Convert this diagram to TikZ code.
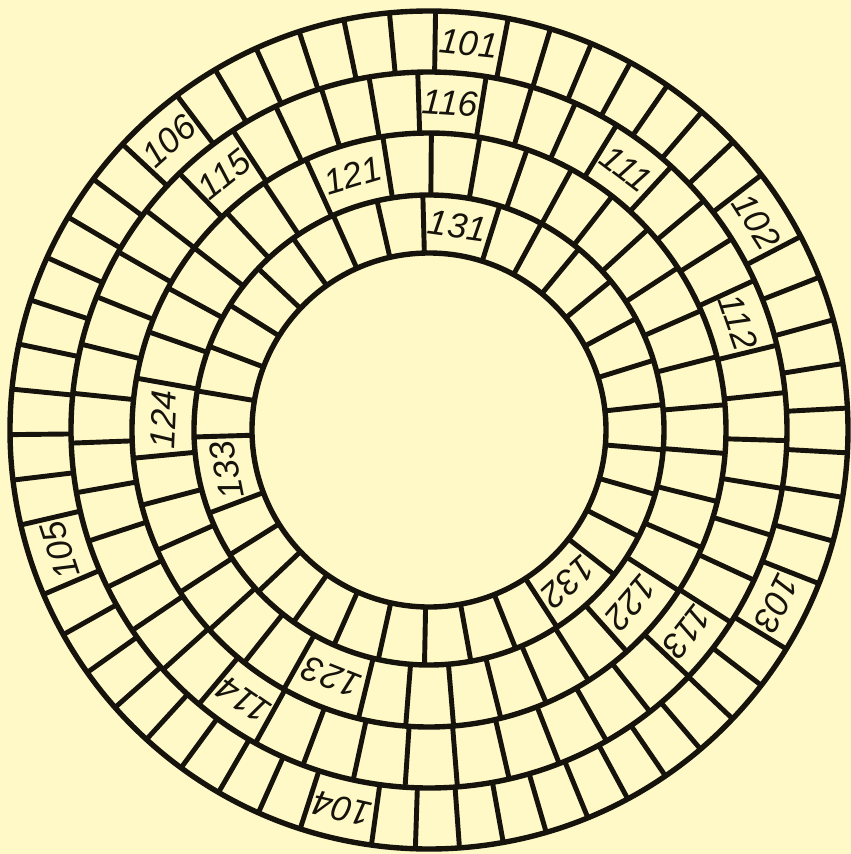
\documentclass[tikz,border=0pt]{standalone}
\usepackage{tikz}
\usepackage{fontspec}
\setsansfont{Liberation Sans}
\definecolor{paper}{RGB}{254,249,199}
\definecolor{ink}{RGB}{22,18,12}

\tikzset{
  ringline/.style={ink, line width=4.6pt},
  joint/.style={ink, line width=4.2pt},
  brickno/.style={font=\sffamily\itshape\fontsize{30}{30}\selectfont, text=ink, inner sep=0pt}
}

% #1 inner radius, #2 outer radius, #3 width of a numbered brick (deg)
% #4 list of angle/number/plain bricks up to next number/next angle
\newcommand{\brickring}[4]{%
  \foreach \a/\lab/\n/\b in {#4} {
    \pgfmathsetmacro{\s}{\a+#3/2}
    \pgfmathsetmacro{\g}{(\b-\a-#3)/\n}
    \pgfmathsetmacro{\m}{(#1+#2)/2}
    \draw[joint] (\a-#3/2:#1) -- (\a-#3/2:#2);
    \foreach \k in {1,...,\n}
      \draw[joint] (\s+\k*\g-\g:#1) -- (\s+\k*\g-\g:#2);
    \node[brickno, rotate=\a-90] (c\lab) at (\a:\m) {\lab};
  }%
}

\begin{document}
\begin{tikzpicture}[x=0.03cm, y=0.03cm]
  \fill[paper] (-429,-424) rectangle (422,430);
  \useasboundingbox (-429,-424) rectangle (422,430);

  % outer ring
  \brickring{358}{419}{10}{84.1/101/6/132, 132/106/9/198.1, 198.1/105/8/257.1,
    257.1/104/11/333.5, 333.5/103/8/392.5, 392.5/102/7/444.1}
  \brickring{297}{358}{11}{86.3/116/4/128.7, 128.7/115/12/235.5, 235.5/114/9/322,
    322/113/6/379.2, 379.2/112/3/412.9, 412.9/111/3/446.3}
  \brickring{235}{297}{15.5}{106.7/121/6/177.7, 177.7/124/6/248.5,
    248.5/123/6/319.5, 319.5/122/14/466.7}
  % inner ring
  \brickring{177}{235}{19}{82/131/8/191.2, 191.2/133/9/312.5, 312.5/132/10/442}

  \foreach \r in {177,235,297,358,419}
    \draw[ringline] (0,0) circle (\r);
\end{tikzpicture}
\end{document}
